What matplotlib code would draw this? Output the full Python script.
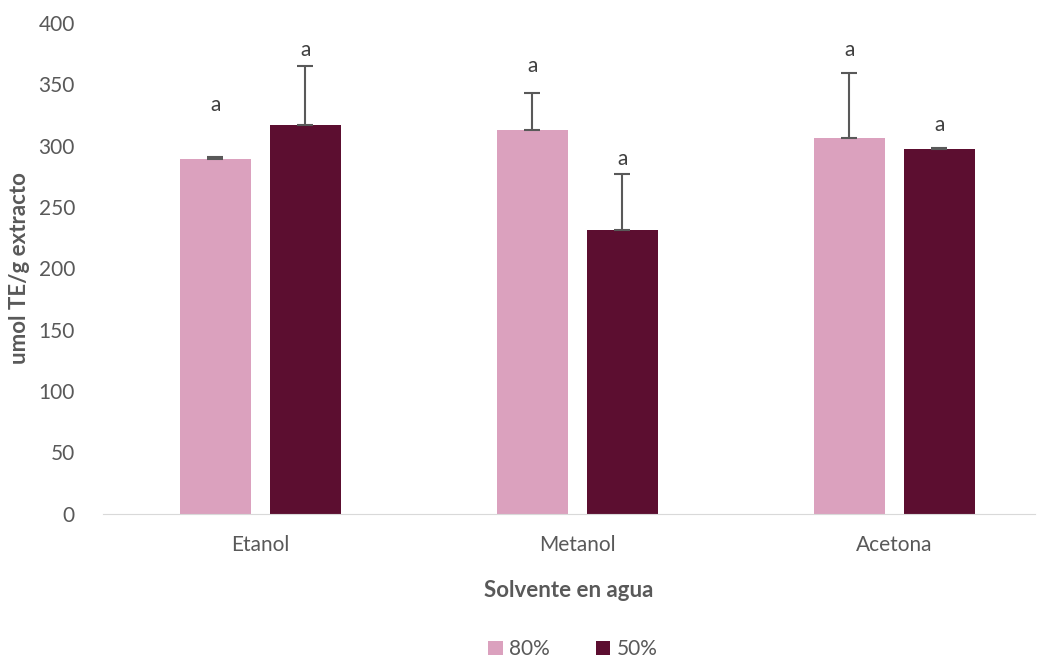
import numpy as np
import matplotlib.pyplot as plt

plt.rcParams['font.family'] = ['Lato', 'DejaVu Sans']

solventes = ['Etanol', 'Metanol', 'Acetona']
series = ['80%', '50%']
valores_80 = [289.5, 313, 306.5]
valores_50 = [317, 231, 297]
error_80 = [1, 30, 53]
error_50 = [48, 46, 1]
letras_80 = ['a', 'a', 'a']
letras_50 = ['a', 'a', 'a']
pos_letras_80 = [333, 365, 378]
pos_letras_50 = [378, 289, 317]

color_80 = '#dba1be'
color_50 = '#5c0e30'
gris = '#595959'

fig = plt.figure(figsize=(10.38, 6.62), dpi=100)
ax = fig.add_axes([0.099, 0.224, 0.898, 0.741])

x = np.arange(len(solventes))
ancho = 0.224
off = 0.142

ax.bar(x - off, valores_80, ancho, color=color_80, label=series[0], zorder=2)
ax.bar(x + off, valores_50, ancho, color=color_50, label=series[1], zorder=2)
ax.errorbar(x - off, valores_80, yerr=[np.zeros(3), error_80], fmt='none',
            ecolor=gris, elinewidth=1.5, capsize=6, capthick=1.5, zorder=3)
ax.errorbar(x + off, valores_50, yerr=[np.zeros(3), error_50], fmt='none',
            ecolor=gris, elinewidth=1.5, capsize=6, capthick=1.5, zorder=3)

for i in range(len(solventes)):
    ax.text(x[i] - off, pos_letras_80[i], letras_80[i], ha='center', va='center',
            fontsize=15, color='#404040')
    ax.text(x[i] + off, pos_letras_50[i], letras_50[i], ha='center', va='center',
            fontsize=15, color='#404040')

ax.set_xlim(-0.497, 2.443)
ax.set_ylim(0, 400)
ax.set_yticks(range(0, 401, 50))
ax.set_xticks(x)
ax.set_xticklabels(solventes)
ax.tick_params(axis='both', length=0, labelsize=15, labelcolor='#595959')
ax.tick_params(axis='x', pad=15)
ax.tick_params(axis='y', pad=20)
for s in ['top', 'right', 'left']:
    ax.spines[s].set_visible(False)
ax.spines['bottom'].set_color('#d9d9d9')

ax.set_xlabel('Solvente en agua', fontsize=16, fontweight='bold', color='#595959', labelpad=18)
ax.set_ylabel('umol TE/g extracto', fontsize=16, fontweight='bold', color='#595959', labelpad=6)

fig.legend(loc='lower center', bbox_to_anchor=(0.552, -0.024), ncol=2, frameon=False,
           fontsize=15, handlelength=0.7, handleheight=0.7, handletextpad=0.3,
           columnspacing=2.2, labelcolor='#595959')

fig.savefig('out.png', dpi=100)
